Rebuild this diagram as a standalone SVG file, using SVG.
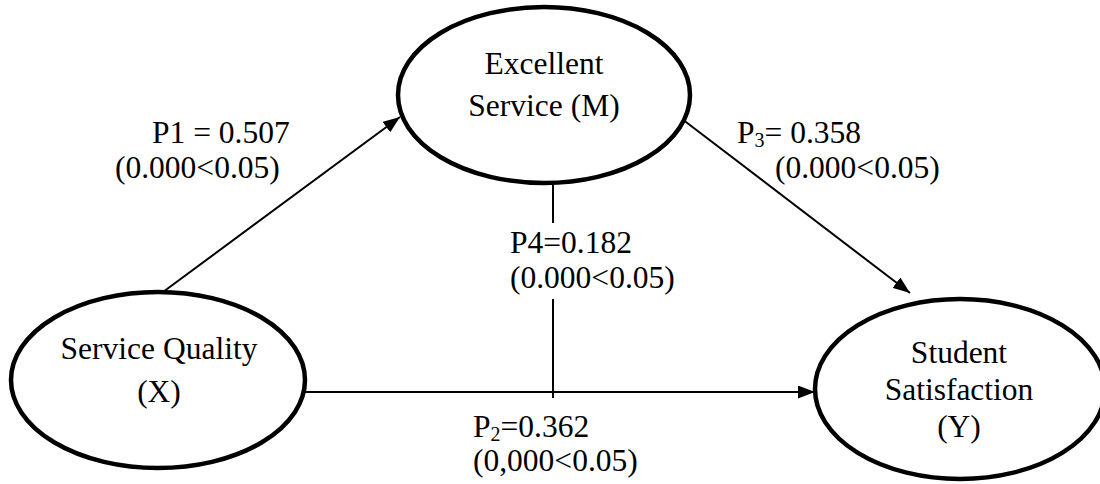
<svg xmlns="http://www.w3.org/2000/svg" width="1100" height="484" viewBox="0 0 1100 484">
<style>
.node{fill:#fff;stroke:#000;stroke-width:4.5}
text{font-family:'Liberation Serif','DejaVu Serif',serif;font-size:31.5px;fill:#000}
.c{text-anchor:middle}
.e{stroke:#000;stroke-width:2;fill:none}
.sub{font-size:20px}
</style>
<defs>
<marker id="arr" viewBox="0 0 17 13" refX="17" refY="6.5" markerWidth="17" markerHeight="13" markerUnits="userSpaceOnUse" orient="auto">
<path d="M0,0 L17,6.5 L0,13 z" fill="#000"/>
</marker>
</defs>
<rect width="1100" height="484" fill="#fff"/>
<g id="connectors">
<line class="e" x1="163" y1="292" x2="400" y2="117" marker-end="url(#arr)"/>
<line class="e" x1="682" y1="119" x2="910" y2="293" marker-end="url(#arr)"/>
<line class="e" x1="305" y1="392" x2="815" y2="392" marker-end="url(#arr)"/>
<line class="e" x1="553" y1="183" x2="553" y2="223"/>
<line class="e" x1="553" y1="299" x2="553" y2="398"/>
</g>
<g id="node-M" font-family="Liberation Serif, serif">
<ellipse class="node" cx="544" cy="95" rx="146" ry="88"/>
<text class="c" x="544" y="74">Excellent</text>
<text class="c" x="544" y="116">Service (M)</text>
</g>
<g id="node-X">
<ellipse class="node" cx="158" cy="380" rx="147" ry="88"/>
<text class="c" x="159" y="359">Service Quality</text>
<text class="c" x="159" y="402">(X)</text>
</g>
<g id="node-Y">
<ellipse class="node" cx="960" cy="389" rx="145" ry="90"/>
<text class="c" x="959" y="363">Student</text>
<text class="c" x="959" y="400">Satisfaction</text>
<text class="c" x="959" y="437">(Y)</text>
</g>
<g id="labels">
<text x="152" y="143">P1 = 0.507</text>
<text x="115" y="178">(0.000&lt;0.05)</text>
<text x="737" y="143">P<tspan class="sub" dy="4">3</tspan><tspan dy="-4">= 0.358</tspan></text>
<text x="775" y="178">(0.000&lt;0.05)</text>
<text x="510" y="253">P4=0.182</text>
<text x="510" y="288">(0.000&lt;0.05)</text>
<text x="473" y="437">P<tspan class="sub" dy="4">2</tspan><tspan dy="-4">=0.362</tspan></text>
<text x="473" y="471">(0,000&lt;0.05)</text>
</g>
</svg>
